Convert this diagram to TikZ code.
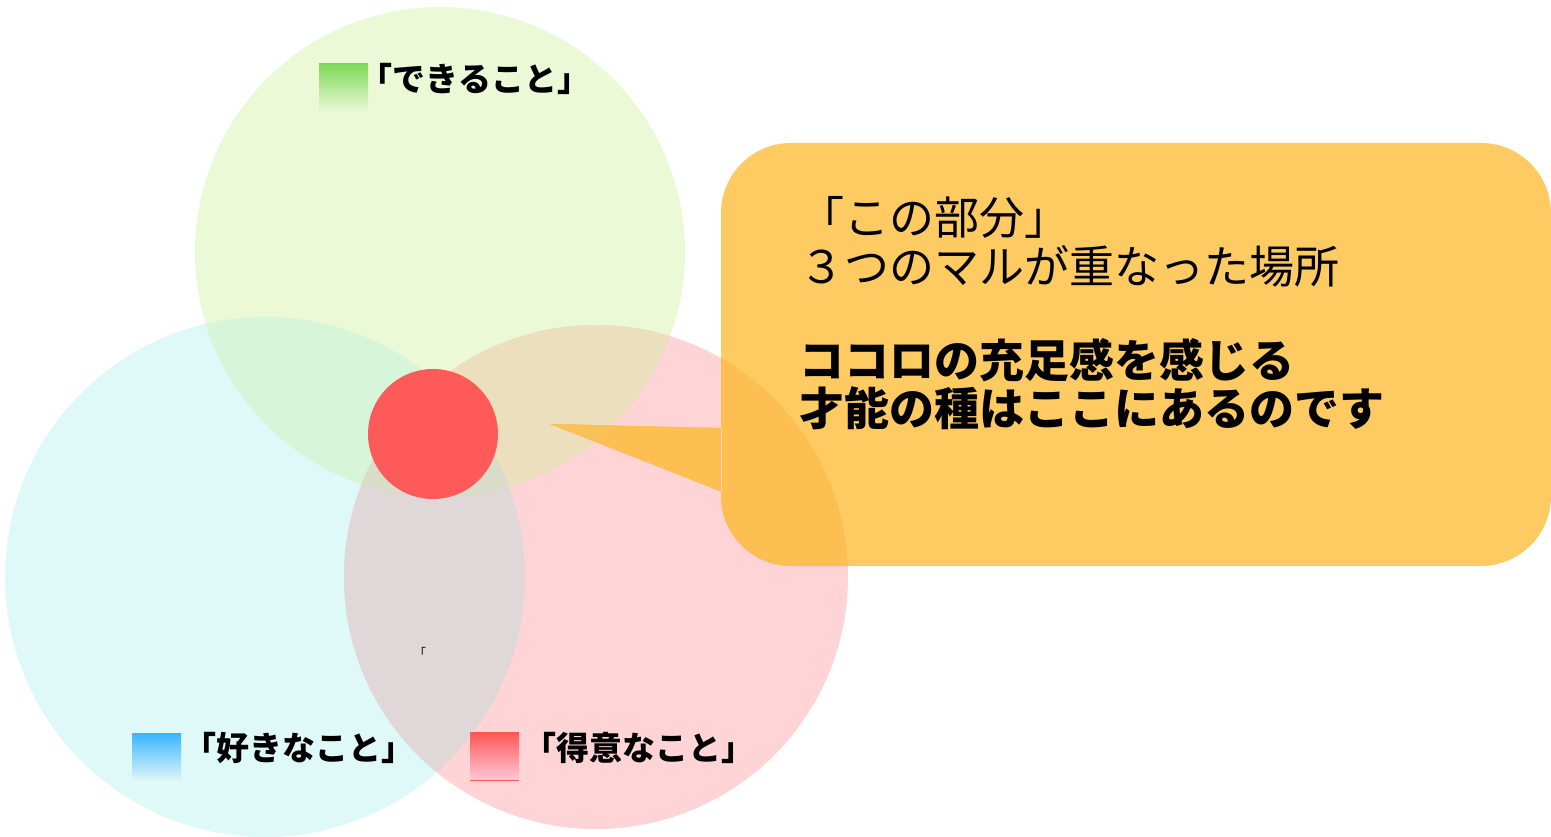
\documentclass[tikz,border=0pt]{standalone}
\usepackage{fontspec}
\newfontfamily\jp{Noto Sans CJK JP}
\definecolor{cG}{RGB}{235,249,215}
\definecolor{cB}{RGB}{223,248,248}
\definecolor{cP}{RGB}{254,212,214}
\definecolor{cGB}{RGB}{215,245,216}
\definecolor{cGP}{RGB}{235,223,190}
\definecolor{cBP}{RGB}{224,215,217}
\definecolor{cGBP}{RGB}{217,220,201}
\definecolor{cRed}{RGB}{255,90,90}
\definecolor{cOr}{RGB}{254,202,98}
\definecolor{cOrP}{RGB}{253,191,82}
\definecolor{cOrGP}{RGB}{248,194,90}
\definecolor{legG}{RGB}{126,217,87}
\definecolor{legB}{RGB}{58,180,255}
\definecolor{legR}{RGB}{255,85,85}
\definecolor{legRb}{RGB}{255,200,215}
\tikzset{
  legtext/.style={font=\jp\bfseries\fontsize{33}{33}\selectfont, inner sep=0pt, text height=0.88em, text depth=0.12em},
  calltext/.style={font=\jp\fontsize{45}{45}\selectfont, inner sep=0pt, anchor=west, text height=0.88em, text depth=0.12em},
  callbold/.style={font=\jp\bfseries\fontsize{45}{45}\selectfont, inner sep=0pt, anchor=west, text height=0.88em, text depth=0.12em},
}
\def\Gc{(440,252) circle[radius=245pt]}
\def\Bc{(265,577) circle[radius=260pt]}
\def\Pc{(596,577) circle[radius=252pt]}
\def\callout{[rounded corners=70pt] (721,143) rectangle (1551,566) [sharp corners] (550,424) -- (722,428) -- (722,492) -- cycle}
\begin{document}
\begin{tikzpicture}[x=1pt,y=-1pt]
\useasboundingbox (0,0) rectangle (1551,837);
% circles
\fill[cG] \Gc;
\fill[cB] \Bc;
\fill[cP] \Pc;
\begin{scope}\clip \Gc; \fill[cGB] \Bc; \end{scope}
\begin{scope}\clip \Gc; \fill[cGP] \Pc; \end{scope}
\begin{scope}\clip \Bc; \fill[cBP] \Pc; \end{scope}
\begin{scope}\clip \Gc; \clip \Bc; \fill[cGBP] \Pc; \end{scope}
% core
\node[circle, fill=cRed, minimum size=130pt, inner sep=0pt] (core) at (433,434) {};
% callout
\fill[cOr] \callout;
\begin{scope}\clip \Pc; \fill[cOrP] \callout; \end{scope}
\begin{scope}\clip \Pc; \clip \Gc; \fill[cOrGP] \callout; \end{scope}
\node[calltext] (l1) at (799,231) {「この部分」};
\node[calltext] (l2) at (799,280) {３つのマルが重なった場所};
\node[callbold] (l3) at (799,374) {ココロの充足感を感じる};
\node[callbold] (l4) at (799,422) {才能の種はここにあるのです};
% legends
\shade[top color=legG, bottom color=cG] (319,64) rectangle (368,112);
\node[legtext] (tG) at (475,88) {「できること」};
\shade[top color=legB, bottom color=cB] (132,733) rectangle (181,781);
\node[legtext] (tB) at (299,757) {「好きなこと」};
\shade[top color=legR, bottom color=legRb] (470,732) rectangle (519,780);
\draw[legR, line width=1pt] (470,780) -- (519,780);
\node[legtext] (tP) at (639,757) {「得意なこと」};
% stray mark
\node[font=\jp\fontsize{12}{12}\selectfont, inner sep=0pt] (mk) at (420,652) {「};
\end{tikzpicture}
\end{document}
